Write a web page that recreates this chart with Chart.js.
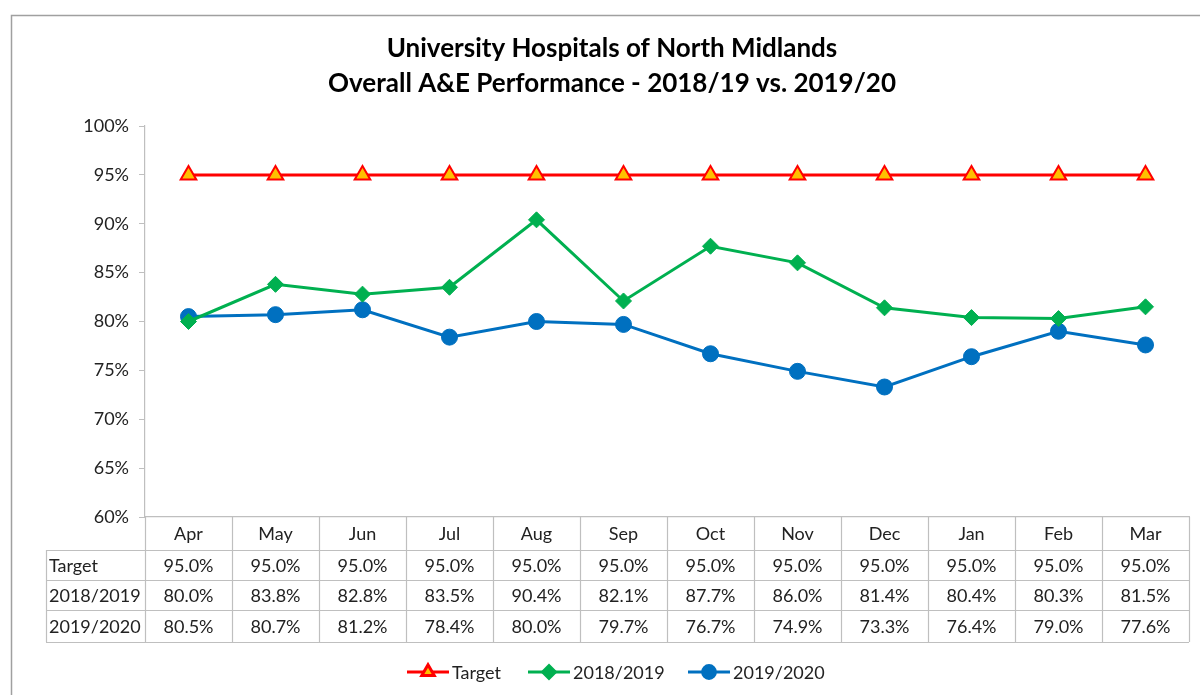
<!DOCTYPE html>
<html><head><meta charset="utf-8">
<script src="https://cdn.jsdelivr.net/npm/chart.js@4/dist/chart.umd.min.js"></script>
<style>html,body{margin:0;padding:0;background:#fff;}#wrap{position:relative;width:1200px;height:695px;}</style>
</head><body><div id="wrap"><canvas id="c" width="1200" height="695"></canvas></div>
<script>
const titleLines = ["University Hospitals of North Midlands", "Overall A&E Performance - 2018/19 vs. 2019/20"];
const months = ["Apr","May","Jun","Jul","Aug","Sep","Oct","Nov","Dec","Jan","Feb","Mar"];
const target = [95.0,95.0,95.0,95.0,95.0,95.0,95.0,95.0,95.0,95.0,95.0,95.0];
const y2018 = [80.0,83.8,82.8,83.5,90.4,82.1,87.7,86.0,81.4,80.4,80.3,81.5];
const y2019 = [80.5,80.7,81.2,78.4,80.0,79.7,76.7,74.9,73.3,76.4,79.0,77.6];
const seriesNames = ["Target","2018/2019","2019/2020"];

const FONT = "Lato, 'Open Sans', sans-serif";
const GRID = "#BFBFBF";
const TEXT = "#222";

const tablePlugin = {
  id: 'tablePlugin',
  beforeDraw(chart) {
    const ctx = chart.ctx;
    ctx.save();
    ctx.fillStyle = '#fff';
    ctx.fillRect(0,0,chart.width,chart.height);
    ctx.strokeStyle = '#A0A0A0';
    ctx.lineWidth = 1.5;
    ctx.strokeRect(11.5, 15.5, 1200, 700);
    ctx.restore();
  },
  afterDraw(chart) {
    const ctx = chart.ctx;
    const x = chart.scales.x;
    const ca = chart.chartArea;
    const n = months.length;
    const colW = (ca.right - ca.left) / n;
    const top = ca.bottom;
    const rowY = [top, top + 33, top + 63, top + 93, top + 125];
    const labelLeft = 46;
    ctx.save();
    // title
    ctx.fillStyle = '#000';
    ctx.font = "bold 26px " + FONT;
    ctx.textAlign = 'center';
    ctx.textBaseline = 'middle';
    ctx.fillText(titleLines[0], 612, 49);
    ctx.fillText(titleLines[1], 612, 84);
    // grid lines of table
    ctx.strokeStyle = GRID;
    ctx.lineWidth = 1.2;
    ctx.beginPath();
    for (let i = 0; i <= n; i++) {
      const xx = Math.round(ca.left + i * colW) + 0.5;
      ctx.moveTo(xx, rowY[0]); ctx.lineTo(xx, rowY[4]);
    }
    ctx.moveTo(labelLeft + 0.5, rowY[1]); ctx.lineTo(labelLeft + 0.5, rowY[4]);
    for (let r = 1; r <= 4; r++) {
      ctx.moveTo(labelLeft, Math.round(rowY[r]) + 0.5); ctx.lineTo(ca.right, Math.round(rowY[r]) + 0.5);
    }
    ctx.stroke();
    // text
    ctx.fillStyle = TEXT;
    ctx.font = "18px " + FONT;
    ctx.textAlign = 'center';
    ctx.textBaseline = 'middle';
    months.forEach((m, i) => {
      ctx.fillText(m, x.getPixelForValue(i), (rowY[0] + rowY[1]) / 2 + 1);
    });
    const rows = [target, y2018, y2019];
    rows.forEach((arr, r) => {
      const cy = (rowY[r + 1] + rowY[r + 2]) / 2 + 1;
      ctx.textAlign = 'left';
      ctx.fillText(seriesNames[r], labelLeft + 3, cy);
      ctx.textAlign = 'center';
      arr.forEach((v, i) => ctx.fillText(v.toFixed(1) + '%', x.getPixelForValue(i), cy));
    });
    // legend
    const ly = 672;
    const items = [[407, 0], [528, 1], [688, 2]];
    items.forEach(([lx, di]) => {
      const ds = chart.data.datasets[di];
      ctx.strokeStyle = ds.borderColor;
      ctx.lineWidth = 3;
      ctx.beginPath(); ctx.moveTo(lx, ly); ctx.lineTo(lx + 42, ly); ctx.stroke();
      ctx.fillStyle = ds.pointBackgroundColor; ctx.strokeStyle = ds.pointBorderColor;
      Chart.helpers.drawPoint(ctx, {pointStyle: ds.pointStyle, radius: ds.pointRadius * 0.8, borderWidth: ds.pointBorderWidth, rotation: 0}, lx + 21, ly);
      ctx.fillStyle = TEXT;
      ctx.font = "18px " + FONT;
      ctx.textAlign = 'left';
      ctx.fillText(seriesNames[di], lx + 45, ly + 1);
    });
    ctx.restore();
  }
};

new Chart(document.getElementById('c'), {
  type: 'line',
  data: {
    labels: months,
    datasets: [
      { label: seriesNames[0], data: target, borderColor: '#FF0000', backgroundColor: '#FF0000', borderWidth: 3,
        pointStyle: 'triangle', pointRadius: 9, pointBackgroundColor: '#FFC000', pointBorderColor: '#FF0000', pointBorderWidth: 2, tension: 0 },
      { label: seriesNames[1], data: y2018, borderColor: '#00B050', backgroundColor: '#00B050', borderWidth: 3,
        pointStyle: 'rectRot', pointRadius: 8, pointBackgroundColor: '#00B050', pointBorderColor: '#00B050', pointBorderWidth: 1, tension: 0 },
      { label: seriesNames[2], data: y2019, borderColor: '#0070C0', backgroundColor: '#0070C0', borderWidth: 3,
        pointStyle: 'circle', pointRadius: 8, pointBackgroundColor: '#0070C0', pointBorderColor: '#0070C0', pointBorderWidth: 1, tension: 0 }
    ]
  },
  options: {
    responsive: false,
    animation: false,
    layout: { padding: { top: 126, bottom: 178, left: 0, right: 10 } },
    plugins: { legend: { display: false }, title: { display: false }, tooltip: { enabled: false } },
    scales: {
      x: {
        offset: true,
        ticks: { display: false },
        grid: { display: false },
        border: { display: true, color: GRID, width: 1.2 },
        afterFit(s) { s.height = 0; }
      },
      y: {
        min: 60, max: 100,
        ticks: { stepSize: 5, padding: 10, color: TEXT, font: { family: FONT, size: 18 }, callback: v => v + '%' },
        grid: { drawOnChartArea: false, drawTicks: true, tickLength: 6, color: GRID },
        border: { display: true, color: GRID, width: 1.2 },
        afterFit(s) { s.width = 145; }
      }
    }
  },
  plugins: [tablePlugin]
});
</script></body></html>
